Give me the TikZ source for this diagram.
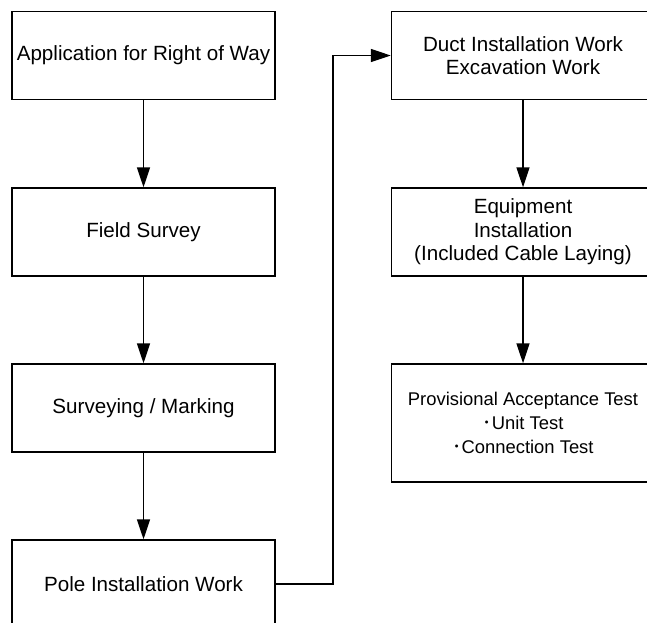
\documentclass[tikz,border=0pt]{standalone}
\usepackage{fontspec}
\setmainfont{Liberation Sans}
\newfontfamily\jpfont{Noto Sans CJK JP}
\usetikzlibrary{arrows.meta}

\tikzset{
  stepbox/.style={draw=black, line width=0.72pt, rectangle,
    minimum width=131.5pt, minimum height=44pt, inner sep=1pt,
    align=center, font=\fontsize{10.3pt}{11.7pt}\selectfont},
  flow/.style={draw=black, line width=0.72pt,
    -{Triangle[length=10pt,width=6.5pt]}},
}
% half-width middle dot used as a list bullet
\newcommand{\bul}{{\jpfont ･}}

\begin{document}
\begin{tikzpicture}[x=0.5pt,y=-0.5pt]
  \useasboundingbox (0,0) rectangle (647,622);
  \clip (0,0) rectangle (647,622);

  % left column
  \node[stepbox] (row)    at (143.5,55.5) {Application for Right of Way};
  \node[stepbox] (survey) at (143.5,232)  {Field Survey};
  \node[stepbox] (mark)   at (143.5,408)  {Surveying / Marking};
  \node[stepbox] (pole)   at (143.5,584)  {Pole Installation Work};

  % right column
  \node[stepbox] (duct)   at (523,55.5) {Duct Installation Work\\Excavation Work};
  \node[stepbox] (equip)  at (523,232)  {Equipment\\Installation\\(Included Cable Laying)};
  \node[stepbox, minimum height=59pt, font=\fontsize{9.2pt}{11.9pt}\selectfont]
                 (test)   at (523,423)  {Provisional Acceptance Test\\\bul Unit Test\\\bul Connection Test};

  \draw[flow] (row) -- (survey);
  \draw[flow] (survey) -- (mark);
  \draw[flow] (mark) -- (pole);

  \coordinate (bend) at (333,584);
  \draw[flow] (pole.east) -- (bend) |- (duct.west);

  \draw[flow] (duct) -- (equip);
  \draw[flow] (equip) -- (test);
\end{tikzpicture}
\end{document}
